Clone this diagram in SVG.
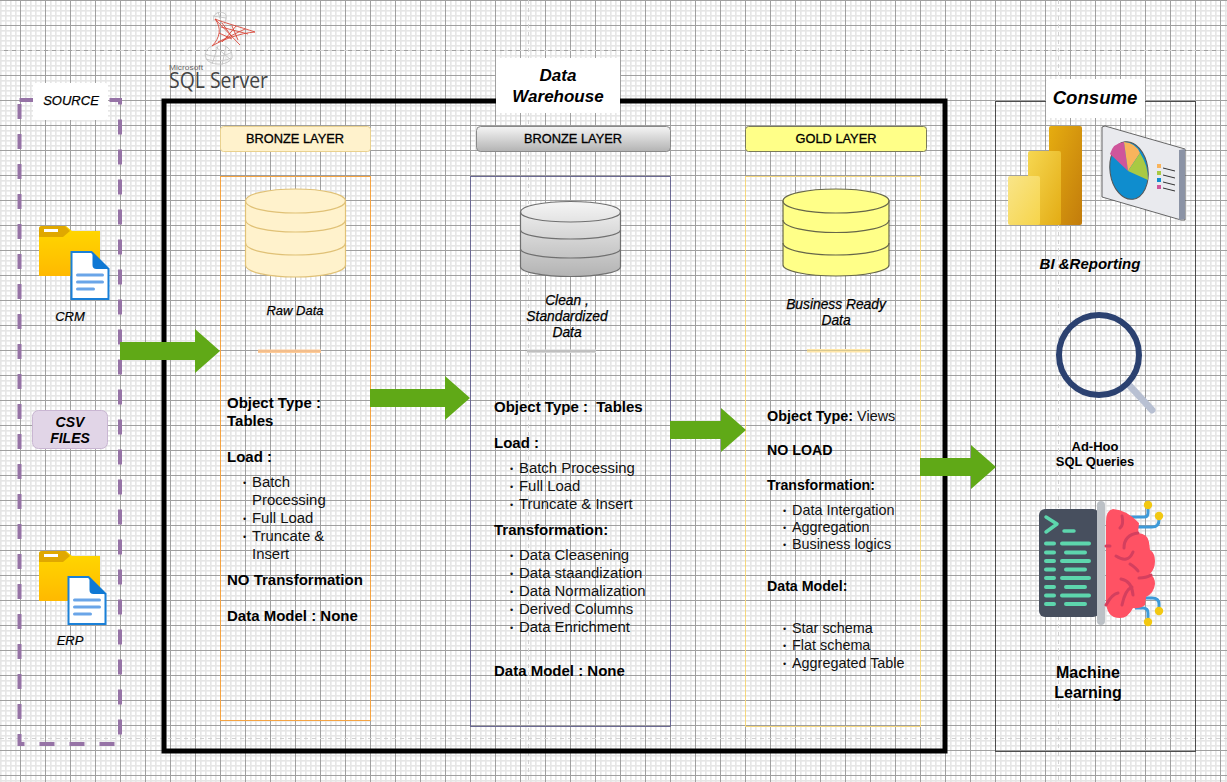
<svg xmlns="http://www.w3.org/2000/svg" width="1227" height="782" viewBox="0 0 1227 782">
<style>
text{font-family:"Liberation Sans",Arial,sans-serif;fill:#000}
.b{font-size:15px;font-weight:bold}
.n{font-size:14.900px;fill:#111}
.b3{font-size:14.200px;font-weight:bold}
.n3{font-size:14.400px;fill:#111}
.d{font-size:9px;fill:#111}
.i{font-size:13.800px;font-style:italic;stroke:#000;stroke-width:.25}
.bi{font-weight:bold;font-style:italic}
.m{text-anchor:middle}
.h{font-size:12.800px;text-anchor:middle;stroke:#000;stroke-width:.3}
.pb{stroke:#d2d2d2;stroke-width:1;stroke-dasharray:4 4;fill:none}
.lab{fill:#fff}
.arr{fill:#60a917}
</style>
<defs>
<pattern id="grid" x="20" y="0" width="25" height="25" patternUnits="userSpaceOnUse">
<rect width="25" height="25" fill="#fff"/>
<g fill="#e6e6e6">
<rect x="5" width="1.600" height="25"/><rect x="10" width="1.600" height="25"/><rect x="15" width="1.600" height="25"/><rect x="20" width="1.600" height="25"/>
<rect y="5" width="25" height="1.600"/><rect y="10" width="25" height="1.600"/><rect y="15" width="25" height="1.600"/><rect y="20" width="25" height="1.600"/>
</g>
<rect x="0" width="1" height="25" fill="#a0a0a0"/><rect y="0" width="25" height="1" fill="#a0a0a0"/>
</pattern>
<linearGradient id="silver" x1="0" y1="0" x2="0" y2="1"><stop offset="0" stop-color="#f5f5f5"/><stop offset="1" stop-color="#b3b3b3"/></linearGradient>
<linearGradient id="folder" x1="0" y1="0" x2="0" y2="1"><stop offset="0" stop-color="#ffd800"/><stop offset="1" stop-color="#ffb900"/></linearGradient>
<linearGradient id="pb1" x1="0" y1="0" x2="1" y2="1"><stop offset="0" stop-color="#e6ad10"/><stop offset="1" stop-color="#c27c0c"/></linearGradient>
<linearGradient id="pb2" x1="0" y1="0" x2="1" y2="1"><stop offset="0" stop-color="#f6d751"/><stop offset="1" stop-color="#e3ac14"/></linearGradient>
<linearGradient id="pb3" x1="0" y1="0" x2="1" y2="1"><stop offset="0" stop-color="#f9e589"/><stop offset="1" stop-color="#f6d44a"/></linearGradient>
<g id="foldericon">
<path d="M0 50V3Q0 0 3 0H27L33 5H61V50Z" fill="url(#folder)"/>
<path d="M0 11V3Q0 0 3 0H26L31 5 24 11Z" fill="#e0a800"/>
<rect x="5" y="3" width="14" height="3" fill="#fff"/>
</g>
<g id="docicon">
<path d="M1 1H21L38 18V48H1Z" fill="#fff" stroke="#1a80d8" stroke-width="2"/>
<path d="M22 1 39 18H26Q22 18 22 14Z" fill="#0f78d4"/>
<path d="M7 24H32M7 31H32M7 38H23" stroke="#6aa5e8" stroke-width="3" stroke-linecap="round"/>
</g>
</defs>
<rect id="background" width="1227" height="782" fill="url(#grid)"/>
<g id="page-breaks">
<path class="pb" d="M0 50.500H1227M0 738.500H1227M528.500 0V782M1058.500 0V782"/>
</g>

<g id="source">
<rect x="19.500" y="100" width="100.500" height="644" fill="none" stroke="#9673a6" stroke-width="4" stroke-dasharray="15 15"/>
<rect class="lab" x="33" y="83" width="75" height="37" rx="3"/>
<text class="m" x="71" y="105" font-size="13" font-style="italic" stroke="#000" stroke-width=".25">SOURCE</text>
</g>
<g id="warehouse">
<rect x="164" y="101" width="781" height="650" fill="none" stroke="#000" stroke-width="5"/>
<rect class="lab" x="496" y="58" width="124" height="55" rx="3"/>
<text class="bi m" x="558" y="81" font-size="17">Data</text>
<text class="bi m" x="558" y="102" font-size="17">Warehouse</text>
</g>
<g id="consume">
<rect x="995.500" y="101.500" width="200" height="650" fill="none" stroke="#4d4d4d"/>
<rect class="lab" x="1046" y="79" width="99" height="39" rx="3"/>
<text class="bi m" x="1095" y="104" font-size="18.600">Consume</text>
</g>

<g id="sqlserver-logo">
<g fill="none" stroke="#c4c4c4" stroke-width=".9">
<path d="M214 21C212 14 218 11 224 13 228 15 226 20 224 24M218 12 222 24M213 16 226 18"/>
<path d="M212 46C205 49 203 56 208 61 216 66 228 65 232 58 233 52 228 46 222 45M218 46 212 64M226 46 222 65M205 54C214 58 226 56 232 52M206 59C214 62 226 61 231 58M216 47 231 60"/>
</g>
<g fill="none" stroke="#d84a3c" stroke-width=".9">
<path d="M215 19C222 22 240 27 255 32 240 33 222 40 212 46 220 38 222 28 215 19Z"/>
<path d="M215 19 240 45M222 23 232 37M236 26 226 38M245 29 218 42M221 27 248 34M219 33 232 39M228 36 222 42M232 26 238 40"/>
</g>
<text x="169" y="70" font-size="7" style="fill:#666" textLength="34" lengthAdjust="spacingAndGlyphs">Microsoft</text>
<text x="169" y="88" style="font-family:'Open Sans',sans-serif;font-size:21px;fill:#444" textLength="99" lengthAdjust="spacingAndGlyphs">SQL Server</text>
</g>

<g id="crm"><use href="#foldericon" x="39" y="226"/><use href="#docicon" x="70.500" y="251"/><text class="m" x="70" y="321" font-size="13" font-style="italic" stroke="#000" stroke-width=".2">CRM</text></g>
<g id="csv">
<rect x="32.500" y="410.500" width="75" height="38" rx="6" fill="#e1d5e7" stroke="#c9b6d2"/>
<text class="bi m" x="70" y="427" font-size="14">CSV</text>
<text class="bi m" x="70" y="443" font-size="14">FILES</text>
</g>
<g id="erp"><use href="#foldericon" x="39" y="551"/><use href="#docicon" x="67.500" y="576"/><text class="m" x="70" y="645" font-size="13" font-style="italic" stroke="#000" stroke-width=".2">ERP</text></g>

<g id="bronze-layer">
<rect x="220.500" y="126.500" width="150" height="25" rx="3" fill="#fff2cc" stroke="#e9d18f"/>
<text class="h" x="295" y="143">BRONZE LAYER</text>
<rect x="220.500" y="176.500" width="150" height="544" fill="none" stroke="#f5a443"/>
<path d="M245.500 201C245.500 194 268 189 295.500 189S345.500 194 345.500 201V265C345.500 272 323 277 295.500 277S245.500 272 245.500 265Z" fill="#fff2cc" stroke="#e0c176" stroke-width="1.200"/>
<path d="M245.500 201C245.500 208 268 213 295.500 213S345.500 208 345.500 201M245.500 220C245.500 227 268 232 295.500 232S345.500 227 345.500 220M245.500 243C245.500 250 268 255 295.500 255S345.500 250 345.500 243" fill="none" stroke="#e0c176" stroke-width="1.200"/>
<text class="i m" x="295" y="315" style="font-size:13px">Raw Data</text>
<rect x="258" y="349.500" width="63" height="3.500" fill="#ffcc99"/><rect x="258" y="350.500" width="63" height="1" fill="#e8b080"/>
<text class="b" x="227" y="408">Object Type :</text>
<text class="b" x="227" y="426">Tables</text>
<text class="b" x="227" y="462">Load :</text>
<text class="d" x="243" y="486">•</text><text class="d" x="243" y="522">•</text><text class="d" x="243" y="540">•</text>
<text class="n" x="252" y="487">Batch</text><text class="n" x="252" y="505">Processing</text><text class="n" x="252" y="523">Full Load</text><text class="n" x="252" y="541">Truncate &amp;</text><text class="n" x="252" y="559">Insert</text>
<text class="b" x="227" y="585">NO Transformation</text>
<text class="b" x="227" y="621">Data Model : None</text>
</g>

<g id="silver-layer">
<rect x="476.500" y="126.500" width="194" height="25" rx="4" fill="url(#silver)" stroke="#8a8a8a"/>
<text class="h" x="573" y="143">BRONZE LAYER</text>
<rect x="470.500" y="176.500" width="200" height="550" fill="none" stroke="#6c6a94"/>
<path d="M520.500 212C520.500 206 543 201.500 570.500 201.500S620.500 206 620.500 212V267C620.500 272 598 276.500 570.500 276.500S520.500 272 520.500 267Z" fill="url(#silver)" stroke="#707070" stroke-width="1.200"/>
<path d="M520.500 212C520.500 218 543 222 570.500 222S620.500 218 620.500 212M520.500 230C520.500 235 543 239 570.500 239S620.500 235 620.500 230M520.500 249C520.500 254 543 258 570.500 258S620.500 254 620.500 249" fill="none" stroke="#707070" stroke-width="1.200"/>
<text class="i m" x="567" y="305">Clean ,</text><text class="i m" x="567" y="321">Standardized</text><text class="i m" x="567" y="337">Data</text>
<rect x="527" y="349.500" width="69" height="3.500" fill="#d6d6d6"/><rect x="527" y="350.500" width="69" height="1" fill="#a8a8a8"/>
<text class="b" x="494" y="412" xml:space="preserve">Object Type :  Tables</text>
<text class="b" x="494" y="448">Load :</text>
<text class="d" x="510" y="472">•</text><text class="d" x="510" y="490">•</text><text class="d" x="510" y="508">•</text>
<text class="n" x="519" y="473">Batch Processing</text><text class="n" x="519" y="491">Full Load</text><text class="n" x="519" y="509">Truncate &amp; Insert</text>
<text class="b" x="494" y="535">Transformation:</text>
<text class="d" x="510" y="559">•</text><text class="d" x="510" y="577">•</text><text class="d" x="510" y="595">•</text><text class="d" x="510" y="613">•</text><text class="d" x="510" y="631">•</text>
<text class="n" x="519" y="560">Data Cleasening</text><text class="n" x="519" y="578">Data staandization</text><text class="n" x="519" y="596">Data Normalization</text><text class="n" x="519" y="614">Derived Columns</text><text class="n" x="519" y="632">Data Enrichment</text>
<text class="b" x="494" y="676">Data Model : None</text>
</g>

<g id="gold-layer">
<rect x="745.500" y="126.500" width="181" height="25" rx="3" fill="#ffff88" stroke="#7a7a5a"/>
<text class="h" x="836" y="143">GOLD LAYER</text>
<rect x="745.500" y="176.500" width="175" height="550" fill="none" stroke="#f4d77e"/>
<path d="M783 201C783 194 807 189 836 189S889 194 889 201V265C889 271 865 276 836 276S783 271 783 265Z" fill="#ffff88" stroke="#66664a" stroke-width="1.200"/>
<path d="M783 201C783 208 807 213 836 213S889 208 889 201M783 220C783 227 807 232.500 836 232.500S889 227 889 220M783 243C783 250 807 255 836 255S889 250 889 243" fill="none" stroke="#66664a" stroke-width="1.200"/>
<text class="i m" x="836" y="309">Business Ready</text><text class="i m" x="836" y="325">Data</text>
<rect x="807" y="349" width="63" height="3.500" fill="#ffe6a8"/><rect x="807" y="350" width="63" height="1" fill="#d8c890"/>
<text x="767" y="421" class="n3"><tspan font-weight="bold" fill="#000">Object Type:</tspan> Views</text>
<text class="b3" x="767" y="455">NO LOAD</text>
<text class="b3" x="767" y="490">Transformation:</text>
<text class="d" x="783" y="514">•</text><text class="d" x="783" y="531">•</text><text class="d" x="783" y="548">•</text>
<text class="n3" x="792" y="515">Data Intergation</text><text class="n3" x="792" y="532">Aggregation</text><text class="n3" x="792" y="549">Business logics</text>
<text class="b3" x="767" y="591">Data Model:</text>
<text class="d" x="783" y="632">•</text><text class="d" x="783" y="649">•</text><text class="d" x="783" y="667">•</text>
<text class="n3" x="792" y="633">Star schema</text><text class="n3" x="792" y="650">Flat schema</text><text class="n3" x="792" y="668">Aggregated Table</text>
</g>

<g id="bi-reporting">
<rect x="1049" y="126" width="33" height="99" rx="2" fill="url(#pb1)"/>
<rect x="1028" y="151" width="33" height="74" rx="2" fill="url(#pb2)"/>
<rect x="1008" y="176" width="32" height="49" rx="2" fill="url(#pb3)"/>
<path d="M1102 127 1105 126 1185 149V220L1181 220 1102 197Z" fill="#e9eaee" stroke="#444" stroke-width=".8"/>
<path d="M1179 150 1185 149V219L1179 220Z" fill="#8b93a5"/>
<ellipse cx="1129" cy="170.500" rx="19" ry="29" fill="#0f8dce" stroke="#555" transform="rotate(-8 1129 170.500)"/>
<path d="M1128 171 1110 154Q1113 143 1124 142Z" fill="#cf559b"/>
<path d="M1128 171 1124 142Q1136 143 1140 153Z" fill="#f9b45c"/>
<path d="M1128 171 1140 153Q1148 165 1148 180Z" fill="#a9c943"/>
<rect x="1157" y="164" width="4" height="4" fill="#f9b45c"/><rect x="1157" y="171" width="4" height="4" fill="#a9c943"/><rect x="1157" y="178" width="4" height="4" fill="#0f8dce"/><rect x="1157" y="185" width="4" height="4" fill="#cf559b"/>
<path d="M1163 168 1175 171M1163 175 1175 178M1163 182 1175 185M1163 188 1175 191" stroke="#333" stroke-width="1"/>
<text class="bi m" x="1090" y="269" font-size="15">BI &amp;Reporting</text>
</g>
<g id="adhoc">
<path d="M1129 385 1152 410" stroke="#b8c0d2" stroke-width="7" stroke-linecap="round"/>
<circle cx="1099" cy="355" r="40" fill="none" stroke="#2b4170" stroke-width="6"/>
<text class="m" x="1095" y="451" font-size="13" font-weight="bold">Ad-Hoo</text>
<text class="m" x="1095" y="466" font-size="13" font-weight="bold">SQL Queries</text>
</g>
<g id="ml">
<path d="M1127 517H1144Q1148 517 1148 513V505M1136 527H1152Q1159 527 1159 520V516M1145 598H1152Q1159 598 1159 604V611M1135 608H1143Q1148 608 1148 613V622" fill="none" stroke="#3d9ad9" stroke-width="3"/>
<circle cx="1148" cy="505" r="4.200" fill="#f2c811"/><circle cx="1159" cy="516" r="4.200" fill="#f2c811"/><circle cx="1159" cy="611" r="4.200" fill="#f2c811"/><circle cx="1148" cy="622" r="4.200" fill="#f2c811"/>
<rect x="1039" y="509" width="60" height="108" rx="6" fill="#474f5e"/>
<path d="M1046 517 1057 524 1046 532M1064 531H1074" fill="none" stroke="#5dd6ad" stroke-width="3.500" stroke-linecap="round" stroke-linejoin="round"/>
<path d="M1046 543.500H1054M1062 543.500H1089M1046 552.500H1054M1066 552.500H1085M1046 561H1054M1062 561H1089M1046 569.500H1054M1066 569.500H1085M1046 578H1054M1062 578H1089M1046 587H1054M1066 587H1085M1046 595.500H1054M1062 595.500H1089M1046 604H1054M1066 604H1085" stroke="#5dd6ad" stroke-width="4" stroke-linecap="round"/>
<rect x="1097" y="501" width="8" height="124" rx="4" fill="#bcc1c6"/>
<path d="M1106 522Q1106 510 1113 509 1127 510 1139 523L1138 533Q1148 534 1149 542L1150 550Q1155 553 1155 561 1155 569 1150 574 1155 577 1155 584 1154 593 1146 597L1145 605Q1140 609 1133 608 1128 618 1120 618 1106 618 1106 600Z" fill="#ff5264"/>
<path d="M1122 516Q1124 525 1120 528M1138 533Q1124 535 1124 548M1116 556Q1128 564 1133 552M1130 564Q1136 568 1138 571M1151 575Q1146 578 1139 578M1121 579Q1132 581 1133 595M1106 605Q1112 594 1118 593M1122 605Q1125 590 1132 587M1106 546H1110" fill="none" stroke="#d43f5e" stroke-width="3" stroke-linecap="round"/>
<text class="m" x="1088" y="678" font-size="16" font-weight="bold">Machine</text>
<text class="m" x="1088" y="698" font-size="16" font-weight="bold">Learning</text>
</g>

<g id="connectors">
<path class="arr" d="M120 342H195V329L220 351 195 373V360H120Z"/>
<path class="arr" d="M370 389H445V376L470 398 445 420V407H370Z"/>
<path class="arr" d="M670 421H721V408L746 430 721 452V439H670Z"/>
<path class="arr" d="M920 458H971V445L996 467 971 489V476H920Z"/>
</g>
</svg>
